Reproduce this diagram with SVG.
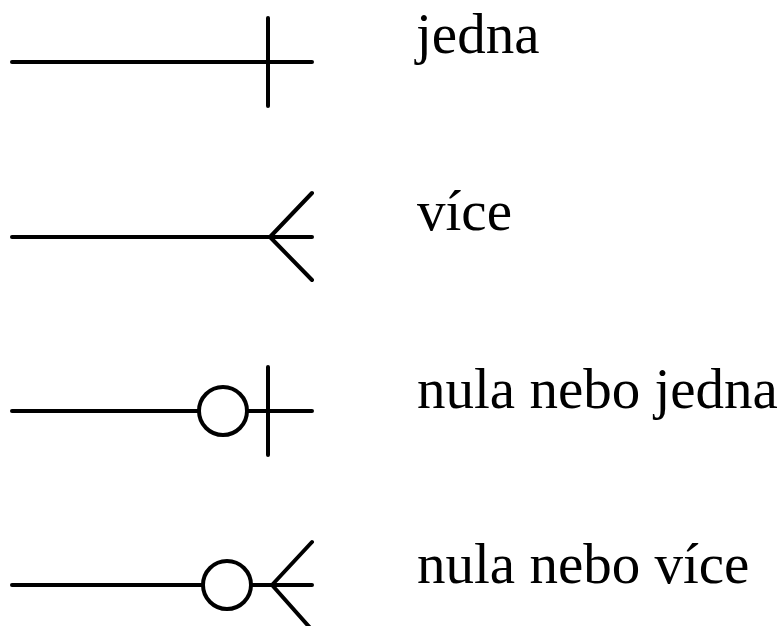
<svg xmlns="http://www.w3.org/2000/svg" width="781" height="626" viewBox="0 0 781 626">
<style>
.s{fill:none;stroke:#000;stroke-width:4;stroke-linecap:round;stroke-linejoin:round}
.t{font-family:"Liberation Serif","Times New Roman",serif;font-size:57px;fill:#000}
</style>
<rect width="781" height="626" fill="#fff"/>
<g id="connectors">
<g id="jedna-line">
<line class="s" x1="12" y1="62" x2="312" y2="62"/>
<line class="s" x1="268" y1="18" x2="268" y2="106"/>
</g>
<g id="vice-line">
<line class="s" x1="12" y1="237" x2="312" y2="237"/>
<polyline class="s" points="312,193 270,237 312,280"/>
</g>
<g id="nula-jedna-line">
<line class="s" x1="12" y1="411" x2="199" y2="411"/>
<circle class="s" cx="223" cy="411" r="24"/>
<line class="s" x1="247" y1="411" x2="312" y2="411"/>
<line class="s" x1="268" y1="367" x2="268" y2="455"/>
</g>
<g id="nula-vice-line">
<line class="s" x1="12" y1="585" x2="203" y2="585"/>
<circle class="s" cx="227" cy="585" r="24"/>
<line class="s" x1="251" y1="585" x2="312" y2="585"/>
<polyline class="s" points="312,542 272,585 312,630"/>
</g>
</g>
<g id="label-jedna"><text class="t" x="416" y="53">jedna</text></g>
<g id="label-vice"><text class="t" x="417" y="230">více</text></g>
<g id="label-nula-jedna"><text class="t" x="417" y="408">nula nebo jedna</text></g>
<g id="label-nula-vice"><text class="t" x="417" y="583">nula nebo více</text></g>
</svg>
